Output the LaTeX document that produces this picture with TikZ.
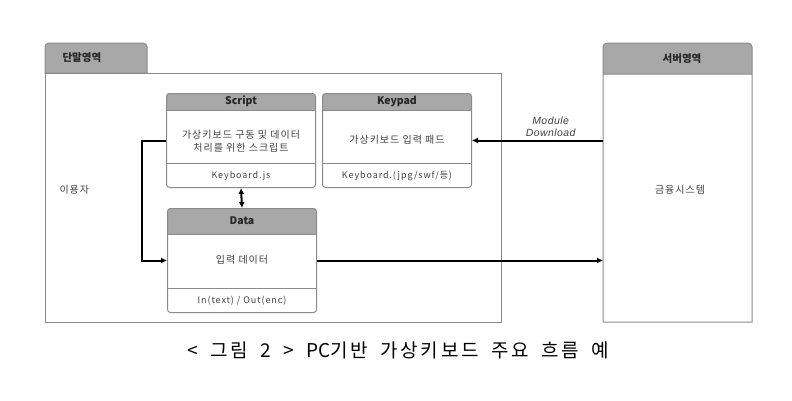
\documentclass[tikz,border=0pt]{standalone}
\usepackage{fontspec}
\setmainfont{Noto Sans CJK KR}
\newfontfamily\bodyfont{Noto Sans CJK KR}[LetterSpace=10]
\newfontfamily\capfont{Noto Sans CJK KR}[LetterSpace=14,WordSpace=1.8]
\newfontfamily\mdfont{Liberation Sans}[LetterSpace=4]
\usetikzlibrary{arrows.meta}
\definecolor{hdr}{HTML}{A8A8A8}
\definecolor{lgray}{HTML}{8A8A8A}
\definecolor{txt}{HTML}{404040}
\begin{document}
\begin{tikzpicture}[x=1pt,y=-1pt,
	box/.style={draw=lgray,line width=1pt,rounded corners=3pt,minimum width=149pt,anchor=north west,inner sep=0pt},
	ttl/.style={font=\bfseries\fontsize{10.5}{12}\selectfont,text=black!85},
	lbl/.style={font=\bodyfont\fontsize{10}{13}\selectfont,text=txt,align=center},
	arr/.style={line width=2pt,-{Latex[length=6pt,width=6pt]}},
	dbl/.style={line width=2pt,{Latex[length=6pt,width=6pt]}-{Latex[length=6pt,width=6pt]}}]
	\useasboundingbox (0,0) rectangle (792,400);
	% regions
	\draw[lgray,line width=1pt] (45,73) rectangle (501,322);
	\filldraw[fill=hdr,draw=lgray,line width=1pt] (45,73) [rounded corners=4pt] -- (45,43) -- (147,43) [sharp corners] -- (147,73) -- cycle;
	\fill[hdr] (603,74) [rounded corners=4pt] -- (603,43) -- (752,43) [sharp corners] -- (752,74) -- cycle;
	\draw[lgray,line width=1pt] (603,322) [rounded corners=4pt] -- (603,43) -- (752,43) [sharp corners] -- (752,322) -- cycle (603,74) -- (752,74);
	\node[minimum width=149pt,minimum height=279pt,anchor=north west,inner sep=0pt] (srv) at (603,43) {};
	\node[ttl,anchor=west] (tl) at (59,58) {단말영역};
	\node[ttl] (sl) at (682,59) {서버영역};
	\node[lbl,anchor=west] (usr) at (56,190) {이용자};
	\node[lbl] (fin) at (680,190) {금융시스템};
	% boxes
	\foreach \n/\x/\y/\H/\hh/\bo/\t/\b/\f in {scr/166/93/94/17/48/Script/{가상키보드 구동 및 데이터\\처리를 위한 스크립트}/Keyboard.js,
		kpd/322/93/94/17/47/Keypad/가상키보드 입력 패드/{Keyboard.(jpg/swf/등)},
		dat/167/208/104/26/52/Data/입력 데이터/{In(text) / Out(enc)}}{
		\node[box,minimum height=\H pt,path picture={
			\fill[hdr,sharp corners] (path picture bounding box.north west) rectangle ([yshift=-\hh*1pt]path picture bounding box.north east);
			\draw[lgray,line width=1pt,sharp corners] ([yshift=-\hh*1pt]path picture bounding box.north west) -- ([yshift=-\hh*1pt]path picture bounding box.north east)
			([yshift=24pt]path picture bounding box.south west) -- ([yshift=24pt]path picture bounding box.south east);}] (\n) at (\x,\y) {};
		\node[ttl] (\n-t) at ([yshift=-\hh*0.5pt]\n.north) {\t};
		\node[lbl] (\n-b) at ([yshift=-\bo*1pt]\n.north) {\b};
		\node[lbl,font=\bodyfont\fontsize{9}{11}\selectfont] (\n-f) at ([yshift=12pt]\n.south) {\f};
	}
	% flows
	\draw[arr] (scr.west) -- ++(-24,0) |- (dat.west);
	\draw[dbl] (scr.south) -- (dat.north);
	\draw[arr] (srv.west|-kpd.east) -- (kpd.east) node[pos=0.4,above=0pt,font=\mdfont\itshape\fontsize{10.5}{12}\selectfont,text=txt,align=center] (mdl) {Module\\Download};
	\draw[arr] (dat.east) -- (dat.east-|srv.west);
	\node[font=\capfont\fontsize{19}{21}\selectfont] (cap) at (398,350) {< 그림 2 > {\rmfamily PC}기반 가상키보드 주요 흐름 예};
\end{tikzpicture}
\end{document}
